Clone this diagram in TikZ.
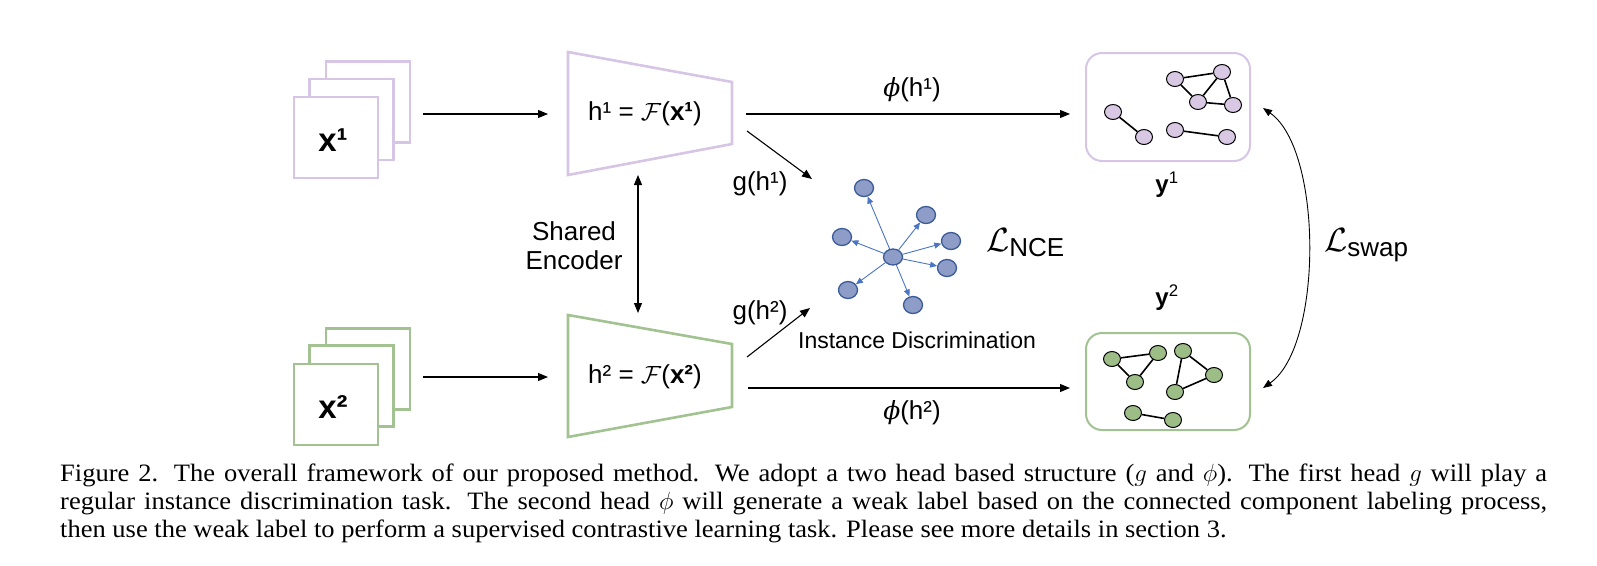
\documentclass[tikz,border=0pt]{standalone}
\usepackage{amsmath}
\usepackage{fontspec}
\setmainfont{Liberation Serif}
\newfontfamily\capf[FakeStretch=1.06]{Liberation Serif}
\newfontfamily\arialf{Liberation Sans}
\newfontfamily\dejaf{DejaVu Serif}
\usetikzlibrary{arrows.meta,shapes.geometric}
\definecolor{purp}{HTML}{D6C5E4}
\definecolor{purpfill}{HTML}{D9C8E4}
\definecolor{grn}{HTML}{A2C291}
\definecolor{grnfill}{HTML}{9DBD87}
\definecolor{bluefill}{HTML}{8E9CC8}
\definecolor{bluedraw}{HTML}{3B5B98}
\definecolor{bluearr}{HTML}{4A74C6}
\newcommand{\myphi}{{\dejaf\itshape\fontsize{25}{28}\selectfont ϕ}}
\newcommand{\bigL}{\scalebox{1.35}{$\mathcal{L}$}}
\begin{document}
\begin{tikzpicture}[x=1pt,y=-1pt,
  lbl/.style={font=\arialf\fontsize{26}{29}\selectfont, inner sep=0pt, align=center},
  arr/.style={-{Triangle[length=10pt,width=8pt]}, line width=1.1pt},
  darr/.style={{Triangle[length=10pt,width=8pt]}-{Triangle[length=10pt,width=8pt]}, line width=1.1pt},
  sheet/.style={draw=#1, line width=2.6pt, fill=white, minimum width=84pt, minimum height=81pt, inner sep=0pt},
  encoder/.style={draw=#1, line width=2.6pt, line join=miter},
  gbox/.style={draw=#1, line width=2pt, rounded corners=16pt, minimum width=164pt, inner sep=0pt},
  gn/.style={ellipse, draw=black, fill=#1, line width=1pt, minimum width=17pt, minimum height=15pt, inner sep=0pt},
  ge/.style={line width=1.6pt},
  bn/.style={ellipse, draw=bluedraw, fill=bluefill, line width=1.3pt, minimum width=19pt, minimum height=17pt, inner sep=0pt},
  barr/.style={-{Triangle[length=7pt,width=6pt]}, draw=bluearr, line width=0.9pt}
]
\useasboundingbox (0,0) rectangle (1597,565);

% ---- input stacks ----
\node[sheet=purp] (s1a) at (368,102) {};
\node[sheet=purp] (s1b) at (351.5,119.5) {};
\node[sheet=purp] (s1c) at (336,137.5) {};
\node[font=\arialf\bfseries\fontsize{33}{36}\selectfont, inner sep=0pt] (x1) at (333,140) {x¹};

\node[sheet=grn] (s2a) at (368,369) {};
\node[sheet=grn] (s2b) at (351.5,386) {};
\node[sheet=grn] (s2c) at (336,404.5) {};
\node[font=\arialf\bfseries\fontsize{33}{36}\selectfont, inner sep=0pt] (x2) at (333,407) {x²};

% ---- encoders ----
\draw[encoder=purp] (568,52) -- (732,82) -- (732,144) -- (568,175) -- cycle;
\node[lbl] (e1) at (645,114) {h¹ = $\mathcal{F}$(\textbf{x¹})};
\draw[encoder=grn] (568,315) -- (732,344) -- (732,407) -- (568,437) -- cycle;
\node[lbl] (e2) at (645,377) {h² = $\mathcal{F}$(\textbf{x²})};

\coordinate (a1s) at (423,114); \coordinate (a1e) at (548,114);
\coordinate (a2s) at (423,377); \coordinate (a2e) at (548,377);
\draw[arr] (a1s) -- (a1e);
\draw[arr] (a2s) -- (a2e);

% shared encoder
\coordinate (sh1) at (638,175); \coordinate (sh2) at (638,313);
\draw[darr] (sh1) -- (sh2);
\node[lbl] (shared) at (574,246) {Shared\\[0pt]Encoder};

% ---- heads ----
\coordinate (p1s) at (746,114); \coordinate (p1e) at (1070,114);
\coordinate (p2s) at (748,388); \coordinate (p2e) at (1070,388);
\draw[arr] (p1s) -- (p1e);
\draw[arr] (p2s) -- (p2e);
\node[lbl] (phi1) at (912,90) {\myphi(h¹)};
\node[lbl] (phi2) at (912,413) {\myphi(h²)};

\coordinate (g1s) at (747,131); \coordinate (g1e) at (812,179);
\coordinate (g2s) at (747,357); \coordinate (g2e) at (810,308);
\draw[arr] (g1s) -- (g1e);
\draw[arr] (g2s) -- (g2e);
\node[lbl] (gh1) at (760,184) {g(h¹)};
\node[lbl] (gh2) at (760,313) {g(h²)};

% ---- instance discrimination ----
\node[bn, minimum width=19pt, minimum height=16pt] (c0) at (893,257) {};
\node[bn] (o1) at (864,188) {};
\node[bn] (o2) at (926,215) {};
\node[bn] (o3) at (842,237) {};
\node[bn] (o4) at (951,241) {};
\node[bn] (o5) at (947,268) {};
\node[bn] (o6) at (848,290) {};
\node[bn] (o7) at (913,305) {};
\foreach \o in {o1,o2,o3,o4,o5,o6,o7} \draw[barr] (c0) -- (\o);
\node[lbl, font=\arialf\fontsize{23}{26}\selectfont] (inst) at (917,340) {Instance Discrimination};
\node[lbl, anchor=west] (lnce) at (986,243) {\bigL\raisebox{-5pt}{NCE}};

% ---- weak label graphs ----
\node[gbox=purp, minimum height=108pt] (box1) at (1168,107) {};
\node[gn=purpfill] (pa) at (1175,79) {};
\node[gn=purpfill] (pb) at (1222,72) {};
\node[gn=purpfill] (pc) at (1198,102) {};
\node[gn=purpfill] (pd) at (1233,105) {};
\node[gn=purpfill] (pe) at (1113,112) {};
\node[gn=purpfill] (pf) at (1144,137) {};
\node[gn=purpfill] (pg) at (1175,130) {};
\node[gn=purpfill] (ph) at (1227,137) {};
\draw[ge] (pa) -- (pb) (pa) -- (pc) (pb) -- (pc) (pb) -- (pd) (pc) -- (pd) (pe) -- (pf) (pg) -- (ph);
\node[lbl, font=\arialf\fontsize{24}{27}\selectfont] (y1) at (1167,185) {\textbf{y}\textsuperscript{1}};

\node[gbox=grn, minimum height=97pt] (box2) at (1168,381.5) {};
\node[gn=grnfill] (qa) at (1112,359) {};
\node[gn=grnfill] (qb) at (1158,353) {};
\node[gn=grnfill] (qc) at (1135,382) {};
\node[gn=grnfill] (qd) at (1183,351) {};
\node[gn=grnfill] (qe) at (1214,375) {};
\node[gn=grnfill] (qf) at (1175,392) {};
\node[gn=grnfill] (qg) at (1133,413) {};
\node[gn=grnfill] (qh) at (1173,420) {};
\draw[ge] (qa) -- (qb) (qa) -- (qc) (qb) -- (qc) (qd) -- (qf) (qd) -- (qe) (qf) -- (qe) (qg) -- (qh);
\node[lbl, font=\arialf\fontsize{24}{27}\selectfont] (y2) at (1167,298) {\textbf{y}\textsuperscript{2}};

% swap
\coordinate (sw1) at (1263,108); \coordinate (sw2) at (1263,388);
\draw[{Triangle[length=9pt,width=7pt]}-{Triangle[length=9pt,width=7pt]}, line width=0.9pt] (sw1) .. controls (1323,150) and (1323,346) .. (sw2);
\node[lbl, anchor=west] (lswap) at (1324,245) {\bigL\raisebox{-5pt}{swap}};

% ---- caption ----
\node[anchor=base west, inner sep=0pt, text width=1487pt, align=justify, font=\capf\fontsize{25}{28}\selectfont] (cap) at (60,481)
{Figure 2. The overall framework of our proposed method.  We adopt a two head based structure ($g$ and $\phi$).  The first head $g$ will play a\linebreak
regular instance discrimination task.  The second head $\phi$ will generate a weak label based on the connected component labeling process,\linebreak
then use the weak label to perform a supervised contrastive learning task. Please see more details in section 3.};
\end{tikzpicture}
\end{document}
